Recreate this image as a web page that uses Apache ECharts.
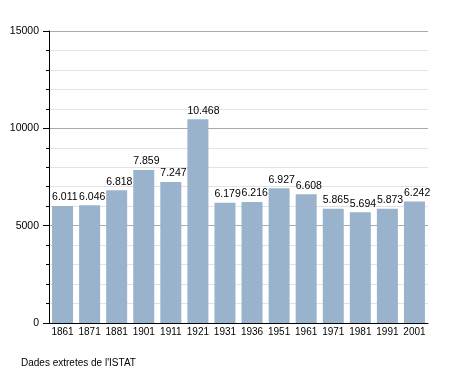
<!DOCTYPE html>
<html>
<head>
<meta charset="utf-8">
<script src="https://cdn.jsdelivr.net/npm/echarts@6/dist/echarts.min.js"></script>
<style>
html,body{margin:0;padding:0;background:#fff;}
#chart{width:455px;height:373px;}
</style>
</head>
<body>
<div id="chart"></div>
<script>
const years = ['1861','1871','1881','1901','1911','1921','1931','1936','1951','1961','1971','1981','1991','2001'];
const population = [6011,6046,6818,7859,7247,10468,6179,6216,6927,6608,5865,5694,5873,6242];
const yTicks = [0,5000,10000,15000];
const sourceNote = "Dades extretes de l'ISTAT";

function fmt(v){
  return String(v).replace(/\B(?=(\d{3})+(?!\d))/g, '.');
}

const font = 'Liberation Sans, Arial, sans-serif';

const chart = echarts.init(document.getElementById('chart'), null, {renderer:'canvas'});
chart.setOption({
  animation:false,
  backgroundColor:'#fff',
  textStyle:{fontFamily:font},
  graphic:[{
    type:'text', left:21, top:358,
    style:{text:sourceNote, font:'10px ' + font, fill:'#000'}
  }],
  grid:{left:49, right:27, top:31, bottom:50, containLabel:false},
  xAxis:{
    type:'category',
    data:years,
    boundaryGap:true,
    axisLine:{show:true, lineStyle:{color:'#000', width:1}},
    axisTick:{show:false},
    axisLabel:{color:'#000', fontSize:10, fontFamily:font, margin:4, interval:0}
  },
  yAxis:{
    type:'value',
    min:yTicks[0], max:yTicks[yTicks.length-1], interval:5000,
    axisLine:{show:true, lineStyle:{color:'#000', width:1}},
    axisTick:{show:true, length:6, lineStyle:{color:'#000'}},
    minorTick:{show:true, splitNumber:5, length:3, lineStyle:{color:'#000'}},
    splitLine:{show:true, lineStyle:{color:'#aaaaaa', width:1}},
    minorSplitLine:{show:true, lineStyle:{color:'#e2e2e2', width:1}},
    axisLabel:{color:'#000', fontSize:10.5, fontFamily:font, margin:10, formatter:v=>String(v)}
  },
  series:[{
    type:'bar',
    data:population,
    barWidth:21,
    itemStyle:{color:'#99b3cc'},
    label:{
      show:true, position:'top', distance:3, align:'left', offset:[-10.5,0],
      color:'#000', fontSize:10.5, fontFamily:font,
      formatter:p=>fmt(p.value)
    }
  }]
});
</script>
</body>
</html>
